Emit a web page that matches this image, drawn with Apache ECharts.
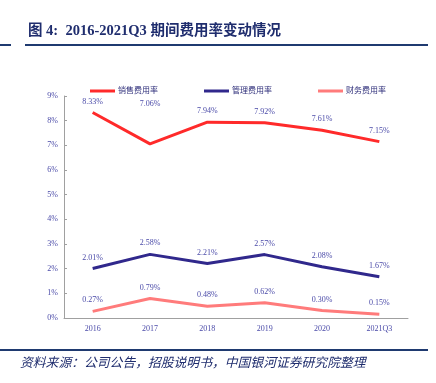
<!DOCTYPE html>
<html><head><meta charset="utf-8">
<script src="https://cdn.jsdelivr.net/npm/echarts@6/dist/echarts.min.js"></script>
<style>html,body{margin:0;padding:0;background:#fff}#c{width:436px;height:383px}</style>
</head><body><div id="c"></div>
<script>
const categories = ['2016','2017','2018','2019','2020','2021Q3'];
const salesRate = [8.33, 7.06, 7.94, 7.92, 7.61, 7.15];
const mgmtRate = [2.01, 2.58, 2.21, 2.57, 2.08, 1.67];
const finRate = [0.27, 0.79, 0.48, 0.62, 0.30, 0.15];
const seriesNames = ['销售费用率','管理费用率','财务费用率'];

const FONT = '"Liberation Serif","DejaVu Serif","Noto Sans CJK SC",serif';
const labelColor = '#4a4aa8';
const chart = echarts.init(document.getElementById('c'));
function mk(name, data, color, raised){
  return {name, type:'line', symbol:'circle', symbolSize:0, showSymbol:true, smooth:false,
    data: data.map((v,i)=> raised && raised[i] ? {value:v, label:{offset:[0,-raised[i]]}} : v),
    lineStyle:{color, width:3}, itemStyle:{color},
    label:{show:true, position:'top', distance:7, color:labelColor, fontSize:8, fontFamily:FONT,
      formatter:p=>Number(p.value).toFixed(2)+'%'}};
}
chart.setOption({
  animation:false,
  graphic:[
    {type:'text', left:28, top:24, style:{text:'图 4:  2016-2021Q3 期间费用率变动情况', fill:'#1f2d6e', font:'bold 14.5px "Liberation Serif","Noto Sans CJK SC",serif'}},
    {type:'rect', shape:{x:0,y:44,width:11,height:2}, style:{fill:'#1f3a70'}},
    {type:'rect', shape:{x:25,y:44,width:403,height:2}, style:{fill:'#1f3a70'}},
    {type:'rect', shape:{x:0,y:349,width:428,height:2}, style:{fill:'#1f3a70'}},
    {type:'text', left:20, top:356, style:{text:'资料来源：公司公告，招股说明书，中国银河证券研究院整理', fill:'#1f2d6e', font:'italic 12.8px "Noto Sans CJK SC",serif'}}
  ],
  legend:{top:82, left:85, itemGap:46, itemWidth:25, itemHeight:3, icon:'rect',
    textStyle:{color:'#2e2e7a', fontSize:8, fontFamily:FONT, padding:[0,0,0,-2]},
    data:seriesNames},
  grid:{left:64, right:28, top:96, bottom:65},
  xAxis:{type:'category', data:categories, boundaryGap:true,
    axisLine:{lineStyle:{color:'#a0a0a0'}}, axisTick:{show:false},
    axisLabel:{color:labelColor, fontSize:8, fontFamily:FONT, margin:7}},
  yAxis:{type:'value', min:0, max:9, interval:1,
    axisLine:{show:true, lineStyle:{color:'#a0a0a0'}},
    axisTick:{show:true, inside:true, length:3, lineStyle:{color:'#a0a0a0'}},
    splitLine:{show:false},
    axisLabel:{color:labelColor, fontSize:8, fontFamily:FONT, margin:6, formatter:v=>v+'%'}},
  series:[mk(seriesNames[0], salesRate, '#ff2a2a', [0,29,0,0,0,0]), mk(seriesNames[1], mgmtRate, '#30288c'), mk(seriesNames[2], finRate, '#ff7b7b')]
});
</script></body></html>
